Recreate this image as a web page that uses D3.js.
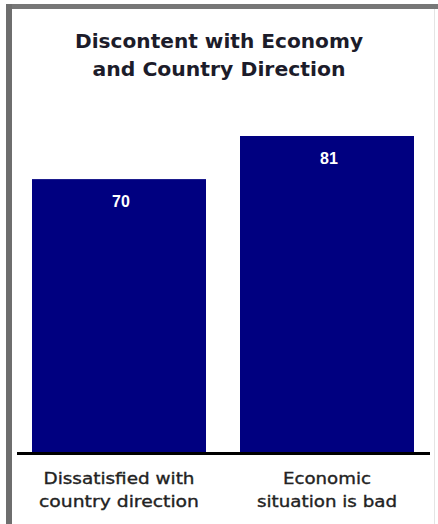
<!DOCTYPE html>
<html>
<head>
<meta charset="utf-8">
<script src="https://cdn.jsdelivr.net/npm/d3@7"></script>
<style>
  html, body { margin: 0; padding: 0; background: #fff; }
  svg { display: block; }
</style>
</head>
<body>
<svg id="chart" width="438" height="524"></svg>
<script>
const titleLines = ["Discontent with Economy", "and Country Direction"];
const categories = ["dissatisfied", "economy"];
const categoryLabels = [["Dissatisfied with", "country direction"], ["Economic", "situation is bad"]];
const values = [70, 81];

const svg = d3.select("#chart");

// frame
svg.append("rect").attr("x", 6).attr("y", 4).attr("width", 432).attr("height", 5).attr("fill", "#777");
svg.append("rect").attr("x", 6).attr("y", 4).attr("width", 6).attr("height", 520).attr("fill", "#6e6e6e");
svg.append("line").attr("x1", 434.5).attr("x2", 434.5).attr("y1", 9).attr("y2", 524)
  .attr("stroke", "#e4e4e4").attr("stroke-width", 1);

const x = d3.scaleBand().domain(categories).range([32, 414]).paddingInner(34 / 208).paddingOuter(0);
const y = d3.scaleLinear().domain([0, 81]).range([453.5, 136]);

// title
const titleWidths = [288, 253];
titleLines.forEach((t, i) => {
  svg.append("text")
    .attr("x", 219).attr("y", 48 + i * 28)
    .attr("text-anchor", "middle")
    .attr("font-family", "'DejaVu Sans', sans-serif")
    .attr("font-weight", "bold")
    .attr("font-size", 19)
    .attr("fill", "#1c1c2a")
    .attr("textLength", titleWidths[i])
    .attr("lengthAdjust", "spacingAndGlyphs")
    .text(t);
});

// bars
svg.append("g").selectAll("rect").data(values).join("rect")
  .attr("x", (d, i) => x(categories[i]))
  .attr("y", d => y(d))
  .attr("width", x.bandwidth())
  .attr("height", d => y(0) - y(d))
  .attr("fill", "#000080");

// value labels
svg.append("g").selectAll("text").data(values).join("text")
  .attr("x", (d, i) => x(categories[i]) + x.bandwidth() / 2 + 2)
  .attr("y", d => y(d) + 28)
  .attr("text-anchor", "middle")
  .attr("font-family", "'Liberation Sans', Arial, sans-serif")
  .attr("font-weight", "bold")
  .attr("font-size", 16)
  .attr("fill", "#fff")
  .text(d => d);

// baseline axis
const axis = d3.axisBottom(x).tickSize(0).tickFormat("");
const ag = svg.append("g").attr("transform", `translate(0,${y(0)})`).call(axis);
ag.select(".domain").attr("d", "M17,0H430").attr("stroke", "#000").attr("stroke-width", 3);

// category labels
const catWidths = [[151, 160], [88, 140]];
categories.forEach((c, i) => {
  categoryLabels[i].forEach((line, j) => {
    svg.append("text")
      .attr("x", x(c) + x.bandwidth() / 2)
      .attr("y", 484 + j * 23)
      .attr("text-anchor", "middle")
      .attr("font-family", "'DejaVu Sans', sans-serif")
      .attr("font-size", 16)
      .attr("fill", "#222")
      .attr("stroke", "#222")
      .attr("stroke-width", 0.35)
      .attr("textLength", catWidths[i][j])
      .attr("lengthAdjust", "spacingAndGlyphs")
      .text(line);
  });
});
</script>
</body>
</html>
